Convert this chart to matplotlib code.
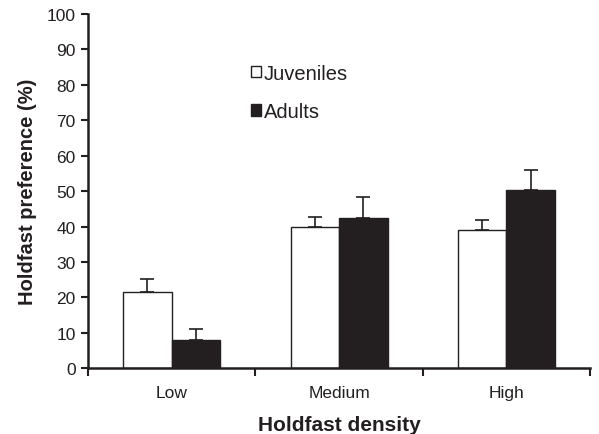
import numpy as np
import matplotlib.pyplot as plt

# datos
categorias = ['Low', 'Medium', 'High']
juveniles = [21.4, 40.0, 38.9]
juveniles_err = [3.7, 2.7, 3.0]
adultos = [8.0, 42.3, 50.2]
adultos_err = [3.1, 6.0, 5.8]

plt.rcParams['font.family'] = ['Liberation Sans', 'DejaVu Sans']

fig = plt.figure(figsize=(5.99, 4.35), dpi=100)
ax = fig.add_axes([0.147, 0.151, 0.838, 0.815])

x = np.arange(len(categorias))
ancho = 0.29

ax.bar(x - ancho / 2, juveniles, ancho, color='white', edgecolor='#231f20',
       linewidth=1.0, label='Juveniles', zorder=2)
ax.bar(x + ancho / 2, adultos, ancho, color='#231f20', edgecolor='#231f20',
       linewidth=1.0, label='Adults', zorder=2)

# barras de error solo hacia arriba
ax.errorbar(x - ancho / 2, juveniles, yerr=[np.zeros(3), juveniles_err],
            fmt='none', ecolor='#231f20', elinewidth=1.2, capsize=5, capthick=1.2, zorder=1)
ax.errorbar(x + ancho / 2, adultos, yerr=[np.zeros(3), adultos_err],
            fmt='none', ecolor='#231f20', elinewidth=1.2, capsize=5, capthick=1.2, zorder=1)

ax.set_xlim(-0.5, 2.45)
ax.set_ylim(0, 100)
ax.set_yticks(range(0, 101, 10))
ax.set_xticks([-0.5, 0.5, 1.5, 2.5])
ax.set_xticklabels([])
ax.set_xticks(x, minor=True)
ax.set_xticklabels(categorias, minor=True)
ax.tick_params(axis='x', which='minor', length=0, pad=12, labelsize=12.5, colors='#231f20')
ax.tick_params(axis='x', which='major', length=6, width=1.5, direction='out', color='#231f20')
ax.tick_params(axis='y', length=5, width=1.5, direction='out', pad=4,
               labelsize=12.5, colors='#231f20')

for lado in ['top', 'right']:
    ax.spines[lado].set_visible(False)
for lado in ['left', 'bottom']:
    ax.spines[lado].set_linewidth(1.8)
    ax.spines[lado].set_color('#231f20')

ax.set_xlabel('Holdfast density', fontsize=15, fontweight='bold', labelpad=11, color='#231f20')
ax.set_ylabel('Holdfast preference (%)', fontsize=14.5, fontweight='bold', labelpad=7, color='#231f20')

leg = ax.legend(loc='upper left', bbox_to_anchor=(0.288, 0.91), frameon=False,
                fontsize=14.5, handlelength=0.5, handleheight=0.5, handletextpad=0.15,
                labelspacing=0.97)
for t in leg.get_texts():
    t.set_color('#231f20')

plt.savefig('out.png', dpi=100)
plt.close()
